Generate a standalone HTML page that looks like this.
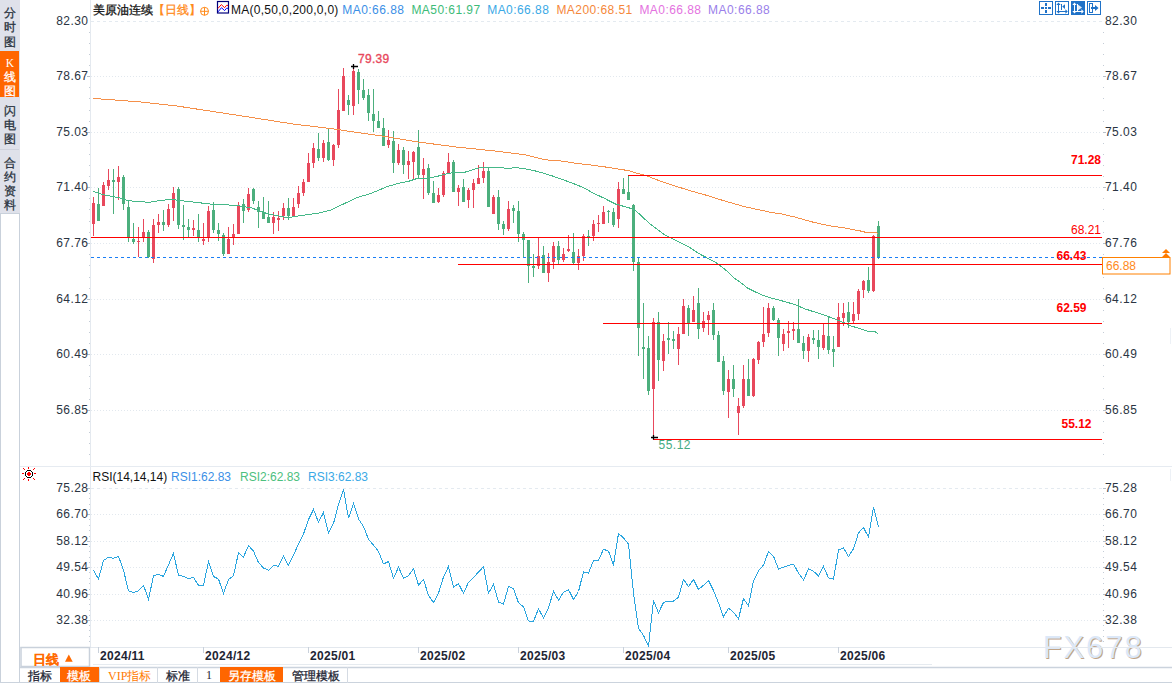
<!DOCTYPE html>
<html><head><meta charset="utf-8"><style>
html,body{margin:0;padding:0;width:1172px;height:683px;overflow:hidden;background:#fff;}
svg{position:absolute;left:0;top:0;font-family:"Liberation Sans", sans-serif;}
</style></head><body>
<svg width="1172" height="683" viewBox="0 0 1172 683">
<text x="1043.7" y="659.3" font-size="31" fill="#c0a488" letter-spacing="1.9">FX678</text>
<text x="1042.7" y="658.3" font-size="31" fill="#dce8f8" letter-spacing="1.9">FX678</text>
<rect x="0" y="0" width="20" height="213" fill="#dfe1ea" />
<rect x="0" y="51" width="19" height="46" fill="#ff6600" />
<line x1="0" y1="149.5" x2="19" y2="149.5" stroke="#cfd2dc" stroke-width="1"/>
<line x1="0" y1="50.5" x2="19" y2="50.5" stroke="#d6e2f0" stroke-width="1"/>
<rect x="0" y="213" width="20" height="470" fill="#ffffff" />
<line x1="0.5" y1="213" x2="0.5" y2="683" stroke="#c9d1db" stroke-width="1"/>
<line x1="19.5" y1="213" x2="19.5" y2="683" stroke="#c9d1db" stroke-width="1"/>
<line x1="0" y1="213.5" x2="20" y2="213.5" stroke="#c9d1db" stroke-width="1"/>
<text x="10" y="17" font-size="12" fill="#2a3340" text-anchor="middle" font-weight="normal"  stroke="#2a3340" stroke-width="0.3">分</text>
<text x="10" y="31" font-size="12" fill="#2a3340" text-anchor="middle" font-weight="normal"  stroke="#2a3340" stroke-width="0.3">时</text>
<text x="10" y="45.5" font-size="12" fill="#2a3340" text-anchor="middle" font-weight="normal"  stroke="#2a3340" stroke-width="0.3">图</text>
<text x="10" y="66.5" font-size="11.5" fill="#ffffff" text-anchor="middle" font-weight="normal" font-family="Liberation Serif, serif">K</text>
<text x="10" y="81" font-size="12" fill="#ffffff" text-anchor="middle" font-weight="normal"  stroke="#ffffff" stroke-width="0.3">线</text>
<text x="10" y="95" font-size="12" fill="#ffffff" text-anchor="middle" font-weight="normal"  stroke="#ffffff" stroke-width="0.3">图</text>
<text x="10" y="114.5" font-size="12" fill="#2a3340" text-anchor="middle" font-weight="normal"  stroke="#2a3340" stroke-width="0.3">闪</text>
<text x="10" y="128.5" font-size="12" fill="#2a3340" text-anchor="middle" font-weight="normal"  stroke="#2a3340" stroke-width="0.3">电</text>
<text x="10" y="142.5" font-size="12" fill="#2a3340" text-anchor="middle" font-weight="normal"  stroke="#2a3340" stroke-width="0.3">图</text>
<text x="10" y="167" font-size="12" fill="#2a3340" text-anchor="middle" font-weight="normal"  stroke="#2a3340" stroke-width="0.3">合</text>
<text x="10" y="181" font-size="12" fill="#2a3340" text-anchor="middle" font-weight="normal"  stroke="#2a3340" stroke-width="0.3">约</text>
<text x="10" y="195" font-size="12" fill="#2a3340" text-anchor="middle" font-weight="normal"  stroke="#2a3340" stroke-width="0.3">资</text>
<text x="10" y="209" font-size="12" fill="#2a3340" text-anchor="middle" font-weight="normal"  stroke="#2a3340" stroke-width="0.3">料</text>
<line x1="90.5" y1="0" x2="90.5" y2="647" stroke="#e4e9ef" stroke-width="1"/>
<line x1="91" y1="21.5" x2="1102" y2="21.5" stroke="#e4eaf0" stroke-width="1" stroke-dasharray="3 3"/>
<text x="88.5" y="24.5" font-size="12" fill="#2a3442" text-anchor="end" font-weight="normal" letter-spacing="0.45">82.30</text>
<text x="1105" y="24.5" font-size="12" fill="#2a3442" text-anchor="start" font-weight="normal" letter-spacing="0.45">82.30</text>
<line x1="91" y1="76.5" x2="1102" y2="76.5" stroke="#e2e8ee" stroke-width="1" stroke-dasharray="1 2"/>
<line x1="87" y1="76.5" x2="90" y2="76.5" stroke="#b8c0ca" stroke-width="1"/>
<line x1="1103" y1="76.5" x2="1106" y2="76.5" stroke="#b8c0ca" stroke-width="1"/>
<text x="88.5" y="79.5" font-size="12" fill="#2a3442" text-anchor="end" font-weight="normal" letter-spacing="0.45">78.67</text>
<text x="1105" y="79.5" font-size="12" fill="#2a3442" text-anchor="start" font-weight="normal" letter-spacing="0.45">78.67</text>
<line x1="91" y1="132.5" x2="1102" y2="132.5" stroke="#e2e8ee" stroke-width="1" stroke-dasharray="1 2"/>
<line x1="87" y1="132.5" x2="90" y2="132.5" stroke="#b8c0ca" stroke-width="1"/>
<line x1="1103" y1="132.5" x2="1106" y2="132.5" stroke="#b8c0ca" stroke-width="1"/>
<text x="88.5" y="135.5" font-size="12" fill="#2a3442" text-anchor="end" font-weight="normal" letter-spacing="0.45">75.03</text>
<text x="1105" y="135.5" font-size="12" fill="#2a3442" text-anchor="start" font-weight="normal" letter-spacing="0.45">75.03</text>
<line x1="91" y1="187.5" x2="1102" y2="187.5" stroke="#e2e8ee" stroke-width="1" stroke-dasharray="1 2"/>
<line x1="87" y1="187.5" x2="90" y2="187.5" stroke="#b8c0ca" stroke-width="1"/>
<line x1="1103" y1="187.5" x2="1106" y2="187.5" stroke="#b8c0ca" stroke-width="1"/>
<text x="88.5" y="190.5" font-size="12" fill="#2a3442" text-anchor="end" font-weight="normal" letter-spacing="0.45">71.40</text>
<text x="1105" y="190.5" font-size="12" fill="#2a3442" text-anchor="start" font-weight="normal" letter-spacing="0.45">71.40</text>
<line x1="91" y1="243.5" x2="1102" y2="243.5" stroke="#e2e8ee" stroke-width="1" stroke-dasharray="1 2"/>
<line x1="87" y1="243.5" x2="90" y2="243.5" stroke="#b8c0ca" stroke-width="1"/>
<line x1="1103" y1="243.5" x2="1106" y2="243.5" stroke="#b8c0ca" stroke-width="1"/>
<text x="88.5" y="246.5" font-size="12" fill="#2a3442" text-anchor="end" font-weight="normal" letter-spacing="0.45">67.76</text>
<text x="1105" y="246.5" font-size="12" fill="#2a3442" text-anchor="start" font-weight="normal" letter-spacing="0.45">67.76</text>
<line x1="91" y1="299.5" x2="1102" y2="299.5" stroke="#e2e8ee" stroke-width="1" stroke-dasharray="1 2"/>
<line x1="87" y1="299.5" x2="90" y2="299.5" stroke="#b8c0ca" stroke-width="1"/>
<line x1="1103" y1="299.5" x2="1106" y2="299.5" stroke="#b8c0ca" stroke-width="1"/>
<text x="88.5" y="302.5" font-size="12" fill="#2a3442" text-anchor="end" font-weight="normal" letter-spacing="0.45">64.12</text>
<text x="1105" y="302.5" font-size="12" fill="#2a3442" text-anchor="start" font-weight="normal" letter-spacing="0.45">64.12</text>
<line x1="91" y1="354.5" x2="1102" y2="354.5" stroke="#e2e8ee" stroke-width="1" stroke-dasharray="1 2"/>
<line x1="87" y1="354.5" x2="90" y2="354.5" stroke="#b8c0ca" stroke-width="1"/>
<line x1="1103" y1="354.5" x2="1106" y2="354.5" stroke="#b8c0ca" stroke-width="1"/>
<text x="88.5" y="357.5" font-size="12" fill="#2a3442" text-anchor="end" font-weight="normal" letter-spacing="0.45">60.49</text>
<text x="1105" y="357.5" font-size="12" fill="#2a3442" text-anchor="start" font-weight="normal" letter-spacing="0.45">60.49</text>
<line x1="91" y1="410.5" x2="1102" y2="410.5" stroke="#e2e8ee" stroke-width="1" stroke-dasharray="1 2"/>
<line x1="87" y1="410.5" x2="90" y2="410.5" stroke="#b8c0ca" stroke-width="1"/>
<line x1="1103" y1="410.5" x2="1106" y2="410.5" stroke="#b8c0ca" stroke-width="1"/>
<text x="88.5" y="413.5" font-size="12" fill="#2a3442" text-anchor="end" font-weight="normal" letter-spacing="0.45">56.85</text>
<text x="1105" y="413.5" font-size="12" fill="#2a3442" text-anchor="start" font-weight="normal" letter-spacing="0.45">56.85</text>
<rect x="89" y="32" width="1" height="1" fill="#c4ccd6" />
<rect x="1103" y="32" width="1" height="1" fill="#c4ccd6" />
<rect x="89" y="43" width="1" height="1" fill="#c4ccd6" />
<rect x="1103" y="43" width="1" height="1" fill="#c4ccd6" />
<rect x="89" y="54" width="1" height="1" fill="#c4ccd6" />
<rect x="1103" y="54" width="1" height="1" fill="#c4ccd6" />
<rect x="89" y="65" width="1" height="1" fill="#c4ccd6" />
<rect x="1103" y="65" width="1" height="1" fill="#c4ccd6" />
<rect x="89" y="87" width="1" height="1" fill="#c4ccd6" />
<rect x="1103" y="87" width="1" height="1" fill="#c4ccd6" />
<rect x="89" y="98" width="1" height="1" fill="#c4ccd6" />
<rect x="1103" y="98" width="1" height="1" fill="#c4ccd6" />
<rect x="89" y="110" width="1" height="1" fill="#c4ccd6" />
<rect x="1103" y="110" width="1" height="1" fill="#c4ccd6" />
<rect x="89" y="121" width="1" height="1" fill="#c4ccd6" />
<rect x="1103" y="121" width="1" height="1" fill="#c4ccd6" />
<rect x="89" y="143" width="1" height="1" fill="#c4ccd6" />
<rect x="1103" y="143" width="1" height="1" fill="#c4ccd6" />
<rect x="89" y="154" width="1" height="1" fill="#c4ccd6" />
<rect x="1103" y="154" width="1" height="1" fill="#c4ccd6" />
<rect x="89" y="165" width="1" height="1" fill="#c4ccd6" />
<rect x="1103" y="165" width="1" height="1" fill="#c4ccd6" />
<rect x="89" y="176" width="1" height="1" fill="#c4ccd6" />
<rect x="1103" y="176" width="1" height="1" fill="#c4ccd6" />
<rect x="89" y="198" width="1" height="1" fill="#c4ccd6" />
<rect x="1103" y="198" width="1" height="1" fill="#c4ccd6" />
<rect x="89" y="209" width="1" height="1" fill="#c4ccd6" />
<rect x="1103" y="209" width="1" height="1" fill="#c4ccd6" />
<rect x="89" y="221" width="1" height="1" fill="#c4ccd6" />
<rect x="1103" y="221" width="1" height="1" fill="#c4ccd6" />
<rect x="89" y="232" width="1" height="1" fill="#c4ccd6" />
<rect x="1103" y="232" width="1" height="1" fill="#c4ccd6" />
<rect x="89" y="254" width="1" height="1" fill="#c4ccd6" />
<rect x="1103" y="254" width="1" height="1" fill="#c4ccd6" />
<rect x="89" y="265" width="1" height="1" fill="#c4ccd6" />
<rect x="1103" y="265" width="1" height="1" fill="#c4ccd6" />
<rect x="89" y="277" width="1" height="1" fill="#c4ccd6" />
<rect x="1103" y="277" width="1" height="1" fill="#c4ccd6" />
<rect x="89" y="288" width="1" height="1" fill="#c4ccd6" />
<rect x="1103" y="288" width="1" height="1" fill="#c4ccd6" />
<rect x="89" y="310" width="1" height="1" fill="#c4ccd6" />
<rect x="1103" y="310" width="1" height="1" fill="#c4ccd6" />
<rect x="89" y="321" width="1" height="1" fill="#c4ccd6" />
<rect x="1103" y="321" width="1" height="1" fill="#c4ccd6" />
<rect x="89" y="332" width="1" height="1" fill="#c4ccd6" />
<rect x="1103" y="332" width="1" height="1" fill="#c4ccd6" />
<rect x="89" y="343" width="1" height="1" fill="#c4ccd6" />
<rect x="1103" y="343" width="1" height="1" fill="#c4ccd6" />
<rect x="89" y="365" width="1" height="1" fill="#c4ccd6" />
<rect x="1103" y="365" width="1" height="1" fill="#c4ccd6" />
<rect x="89" y="376" width="1" height="1" fill="#c4ccd6" />
<rect x="1103" y="376" width="1" height="1" fill="#c4ccd6" />
<rect x="89" y="388" width="1" height="1" fill="#c4ccd6" />
<rect x="1103" y="388" width="1" height="1" fill="#c4ccd6" />
<rect x="89" y="399" width="1" height="1" fill="#c4ccd6" />
<rect x="1103" y="399" width="1" height="1" fill="#c4ccd6" />
<rect x="89" y="421" width="1" height="1" fill="#c4ccd6" />
<rect x="1103" y="421" width="1" height="1" fill="#c4ccd6" />
<rect x="89" y="432" width="1" height="1" fill="#c4ccd6" />
<rect x="1103" y="432" width="1" height="1" fill="#c4ccd6" />
<rect x="89" y="443" width="1" height="1" fill="#c4ccd6" />
<rect x="1103" y="443" width="1" height="1" fill="#c4ccd6" />
<rect x="89" y="454" width="1" height="1" fill="#c4ccd6" />
<rect x="1103" y="454" width="1" height="1" fill="#c4ccd6" />
<line x1="20" y1="466.5" x2="1172" y2="466.5" stroke="#e6ebf1" stroke-width="1"/>
<rect x="93" y="197" width="1" height="39" fill="#e8485c" />
<rect x="92" y="203" width="3" height="21" fill="#e8485c" />
<rect x="98" y="188" width="1" height="33" fill="#4caf7d" />
<rect x="97" y="204" width="3" height="17" fill="#4caf7d" />
<rect x="103" y="182" width="1" height="24" fill="#e8485c" />
<rect x="102" y="185" width="3" height="21" fill="#e8485c" />
<rect x="108" y="169" width="1" height="21" fill="#e8485c" />
<rect x="107" y="180" width="3" height="6" fill="#e8485c" />
<rect x="113" y="169" width="1" height="45" fill="#4caf7d" />
<rect x="112" y="180" width="3" height="2" fill="#4caf7d" />
<rect x="118" y="166" width="1" height="34" fill="#e8485c" />
<rect x="117" y="177" width="3" height="5" fill="#e8485c" />
<rect x="123" y="175" width="1" height="35" fill="#4caf7d" />
<rect x="122" y="177" width="3" height="27" fill="#4caf7d" />
<rect x="128" y="200" width="1" height="42" fill="#4caf7d" />
<rect x="127" y="207" width="3" height="31" fill="#4caf7d" />
<rect x="133" y="223" width="1" height="21" fill="#4caf7d" />
<rect x="132" y="239" width="3" height="3" fill="#4caf7d" />
<rect x="138" y="227" width="1" height="30" fill="#e8485c" />
<rect x="137" y="241" width="3" height="1" fill="#e8485c" />
<rect x="143" y="219" width="1" height="23" fill="#e8485c" />
<rect x="142" y="232" width="3" height="6" fill="#e8485c" />
<rect x="148" y="230" width="1" height="28" fill="#4caf7d" />
<rect x="147" y="232" width="3" height="25" fill="#4caf7d" />
<rect x="153" y="219" width="1" height="44" fill="#e8485c" />
<rect x="152" y="225" width="3" height="34" fill="#e8485c" />
<rect x="158" y="214" width="1" height="19" fill="#e8485c" />
<rect x="157" y="222" width="3" height="3" fill="#e8485c" />
<rect x="163" y="210" width="1" height="21" fill="#4caf7d" />
<rect x="162" y="222" width="3" height="3" fill="#4caf7d" />
<rect x="168" y="204" width="1" height="23" fill="#e8485c" />
<rect x="167" y="209" width="3" height="16" fill="#e8485c" />
<rect x="173" y="187" width="1" height="34" fill="#e8485c" />
<rect x="172" y="193" width="3" height="15" fill="#e8485c" />
<rect x="178" y="187" width="1" height="42" fill="#4caf7d" />
<rect x="177" y="189" width="3" height="36" fill="#4caf7d" />
<rect x="183" y="205" width="1" height="35" fill="#4caf7d" />
<rect x="182" y="225" width="3" height="2" fill="#4caf7d" />
<rect x="188" y="219" width="1" height="18" fill="#4caf7d" />
<rect x="187" y="227" width="3" height="3" fill="#4caf7d" />
<rect x="193" y="220" width="1" height="16" fill="#e8485c" />
<rect x="192" y="228" width="3" height="2" fill="#e8485c" />
<rect x="198" y="214" width="1" height="28" fill="#4caf7d" />
<rect x="197" y="230" width="3" height="8" fill="#4caf7d" />
<rect x="203" y="223" width="1" height="22" fill="#e8485c" />
<rect x="202" y="239" width="3" height="2" fill="#e8485c" />
<rect x="208" y="206" width="1" height="36" fill="#e8485c" />
<rect x="207" y="211" width="3" height="27" fill="#e8485c" />
<rect x="213" y="202" width="1" height="31" fill="#4caf7d" />
<rect x="212" y="210" width="3" height="20" fill="#4caf7d" />
<rect x="218" y="223" width="1" height="18" fill="#4caf7d" />
<rect x="217" y="230" width="3" height="4" fill="#4caf7d" />
<rect x="223" y="233" width="1" height="23" fill="#4caf7d" />
<rect x="222" y="235" width="3" height="19" fill="#4caf7d" />
<rect x="228" y="227" width="1" height="27" fill="#e8485c" />
<rect x="227" y="239" width="3" height="15" fill="#e8485c" />
<rect x="233" y="224" width="1" height="21" fill="#e8485c" />
<rect x="232" y="234" width="3" height="3" fill="#e8485c" />
<rect x="238" y="202" width="1" height="32" fill="#e8485c" />
<rect x="237" y="206" width="3" height="28" fill="#e8485c" />
<rect x="243" y="199" width="1" height="24" fill="#4caf7d" />
<rect x="242" y="204" width="3" height="7" fill="#4caf7d" />
<rect x="248" y="188" width="1" height="24" fill="#e8485c" />
<rect x="247" y="194" width="3" height="16" fill="#e8485c" />
<rect x="253" y="188" width="1" height="16" fill="#4caf7d" />
<rect x="252" y="189" width="3" height="12" fill="#4caf7d" />
<rect x="258" y="201" width="1" height="27" fill="#4caf7d" />
<rect x="257" y="207" width="3" height="5" fill="#4caf7d" />
<rect x="263" y="197" width="1" height="22" fill="#4caf7d" />
<rect x="262" y="212" width="3" height="7" fill="#4caf7d" />
<rect x="268" y="201" width="1" height="22" fill="#4caf7d" />
<rect x="267" y="217" width="3" height="6" fill="#4caf7d" />
<rect x="273" y="212" width="1" height="22" fill="#e8485c" />
<rect x="272" y="217" width="3" height="6" fill="#e8485c" />
<rect x="278" y="211" width="1" height="20" fill="#e8485c" />
<rect x="277" y="218" width="3" height="2" fill="#e8485c" />
<rect x="283" y="203" width="1" height="17" fill="#e8485c" />
<rect x="282" y="208" width="3" height="8" fill="#e8485c" />
<rect x="288" y="198" width="1" height="22" fill="#4caf7d" />
<rect x="287" y="208" width="3" height="8" fill="#4caf7d" />
<rect x="293" y="198" width="1" height="18" fill="#e8485c" />
<rect x="292" y="207" width="3" height="9" fill="#e8485c" />
<rect x="298" y="186" width="1" height="22" fill="#e8485c" />
<rect x="297" y="193" width="3" height="11" fill="#e8485c" />
<rect x="303" y="179" width="1" height="17" fill="#e8485c" />
<rect x="302" y="182" width="3" height="11" fill="#e8485c" />
<rect x="308" y="153" width="1" height="29" fill="#e8485c" />
<rect x="307" y="163" width="3" height="19" fill="#e8485c" />
<rect x="313" y="143" width="1" height="25" fill="#e8485c" />
<rect x="312" y="148" width="3" height="15" fill="#e8485c" />
<rect x="318" y="133" width="1" height="28" fill="#4caf7d" />
<rect x="317" y="149" width="3" height="9" fill="#4caf7d" />
<rect x="323" y="140" width="1" height="22" fill="#e8485c" />
<rect x="322" y="143" width="3" height="15" fill="#e8485c" />
<rect x="328" y="129" width="1" height="32" fill="#4caf7d" />
<rect x="327" y="142" width="3" height="18" fill="#4caf7d" />
<rect x="333" y="144" width="1" height="22" fill="#e8485c" />
<rect x="332" y="145" width="3" height="15" fill="#e8485c" />
<rect x="338" y="89" width="1" height="59" fill="#e8485c" />
<rect x="337" y="110" width="3" height="35" fill="#e8485c" />
<rect x="343" y="68" width="1" height="43" fill="#e8485c" />
<rect x="342" y="76" width="3" height="35" fill="#e8485c" />
<rect x="348" y="95" width="1" height="20" fill="#4caf7d" />
<rect x="347" y="100" width="3" height="5" fill="#4caf7d" />
<rect x="353" y="68" width="1" height="47" fill="#e8485c" />
<rect x="352" y="71" width="3" height="35" fill="#e8485c" />
<rect x="358" y="69" width="1" height="35" fill="#4caf7d" />
<rect x="357" y="72" width="3" height="18" fill="#4caf7d" />
<rect x="363" y="79" width="1" height="21" fill="#4caf7d" />
<rect x="362" y="90" width="3" height="8" fill="#4caf7d" />
<rect x="368" y="89" width="1" height="32" fill="#4caf7d" />
<rect x="367" y="95" width="3" height="18" fill="#4caf7d" />
<rect x="373" y="89" width="1" height="43" fill="#4caf7d" />
<rect x="372" y="114" width="3" height="7" fill="#4caf7d" />
<rect x="378" y="111" width="1" height="17" fill="#4caf7d" />
<rect x="377" y="121" width="3" height="7" fill="#4caf7d" />
<rect x="383" y="118" width="1" height="28" fill="#4caf7d" />
<rect x="382" y="128" width="3" height="18" fill="#4caf7d" />
<rect x="388" y="130" width="1" height="18" fill="#e8485c" />
<rect x="387" y="140" width="3" height="5" fill="#e8485c" />
<rect x="393" y="131" width="1" height="42" fill="#4caf7d" />
<rect x="392" y="141" width="3" height="22" fill="#4caf7d" />
<rect x="398" y="144" width="1" height="21" fill="#e8485c" />
<rect x="397" y="150" width="3" height="13" fill="#e8485c" />
<rect x="403" y="147" width="1" height="27" fill="#4caf7d" />
<rect x="402" y="150" width="3" height="15" fill="#4caf7d" />
<rect x="408" y="151" width="1" height="28" fill="#e8485c" />
<rect x="407" y="161" width="3" height="4" fill="#e8485c" />
<rect x="413" y="151" width="1" height="28" fill="#e8485c" />
<rect x="412" y="152" width="3" height="10" fill="#e8485c" />
<rect x="418" y="130" width="1" height="48" fill="#4caf7d" />
<rect x="417" y="147" width="3" height="28" fill="#4caf7d" />
<rect x="423" y="158" width="1" height="41" fill="#e8485c" />
<rect x="422" y="169" width="3" height="6" fill="#e8485c" />
<rect x="428" y="164" width="1" height="31" fill="#4caf7d" />
<rect x="427" y="168" width="3" height="25" fill="#4caf7d" />
<rect x="433" y="181" width="1" height="22" fill="#4caf7d" />
<rect x="432" y="193" width="3" height="10" fill="#4caf7d" />
<rect x="438" y="188" width="1" height="15" fill="#e8485c" />
<rect x="437" y="195" width="3" height="7" fill="#e8485c" />
<rect x="443" y="171" width="1" height="26" fill="#e8485c" />
<rect x="442" y="173" width="3" height="22" fill="#e8485c" />
<rect x="448" y="153" width="1" height="20" fill="#e8485c" />
<rect x="447" y="162" width="3" height="11" fill="#e8485c" />
<rect x="453" y="160" width="1" height="32" fill="#4caf7d" />
<rect x="452" y="162" width="3" height="30" fill="#4caf7d" />
<rect x="458" y="185" width="1" height="21" fill="#e8485c" />
<rect x="457" y="188" width="3" height="4" fill="#e8485c" />
<rect x="463" y="179" width="1" height="23" fill="#4caf7d" />
<rect x="462" y="187" width="3" height="15" fill="#4caf7d" />
<rect x="468" y="188" width="1" height="20" fill="#e8485c" />
<rect x="467" y="190" width="3" height="10" fill="#e8485c" />
<rect x="473" y="179" width="1" height="29" fill="#e8485c" />
<rect x="472" y="183" width="3" height="7" fill="#e8485c" />
<rect x="478" y="165" width="1" height="19" fill="#e8485c" />
<rect x="477" y="178" width="3" height="6" fill="#e8485c" />
<rect x="483" y="162" width="1" height="21" fill="#e8485c" />
<rect x="482" y="171" width="3" height="7" fill="#e8485c" />
<rect x="488" y="167" width="1" height="40" fill="#4caf7d" />
<rect x="487" y="171" width="3" height="36" fill="#4caf7d" />
<rect x="493" y="195" width="1" height="19" fill="#e8485c" />
<rect x="492" y="197" width="3" height="17" fill="#e8485c" />
<rect x="498" y="190" width="1" height="40" fill="#4caf7d" />
<rect x="497" y="197" width="3" height="27" fill="#4caf7d" />
<rect x="503" y="221" width="1" height="14" fill="#4caf7d" />
<rect x="502" y="224" width="3" height="5" fill="#4caf7d" />
<rect x="508" y="201" width="1" height="30" fill="#e8485c" />
<rect x="507" y="209" width="3" height="20" fill="#e8485c" />
<rect x="513" y="205" width="1" height="18" fill="#4caf7d" />
<rect x="512" y="208" width="3" height="3" fill="#4caf7d" />
<rect x="518" y="201" width="1" height="41" fill="#4caf7d" />
<rect x="517" y="211" width="3" height="23" fill="#4caf7d" />
<rect x="523" y="232" width="1" height="26" fill="#4caf7d" />
<rect x="522" y="234" width="3" height="6" fill="#4caf7d" />
<rect x="528" y="240" width="1" height="43" fill="#4caf7d" />
<rect x="527" y="240" width="3" height="26" fill="#4caf7d" />
<rect x="533" y="254" width="1" height="23" fill="#4caf7d" />
<rect x="532" y="266" width="3" height="2" fill="#4caf7d" />
<rect x="538" y="238" width="1" height="31" fill="#e8485c" />
<rect x="537" y="256" width="3" height="10" fill="#e8485c" />
<rect x="543" y="246" width="1" height="27" fill="#4caf7d" />
<rect x="542" y="255" width="3" height="18" fill="#4caf7d" />
<rect x="548" y="253" width="1" height="29" fill="#e8485c" />
<rect x="547" y="262" width="3" height="11" fill="#e8485c" />
<rect x="553" y="242" width="1" height="27" fill="#e8485c" />
<rect x="552" y="246" width="3" height="16" fill="#e8485c" />
<rect x="558" y="241" width="1" height="23" fill="#4caf7d" />
<rect x="557" y="246" width="3" height="14" fill="#4caf7d" />
<rect x="563" y="248" width="1" height="14" fill="#e8485c" />
<rect x="562" y="254" width="3" height="6" fill="#e8485c" />
<rect x="568" y="235" width="1" height="17" fill="#e8485c" />
<rect x="567" y="249" width="3" height="2" fill="#e8485c" />
<rect x="573" y="233" width="1" height="31" fill="#4caf7d" />
<rect x="572" y="252" width="3" height="11" fill="#4caf7d" />
<rect x="578" y="249" width="1" height="21" fill="#e8485c" />
<rect x="577" y="256" width="3" height="7" fill="#e8485c" />
<rect x="583" y="234" width="1" height="27" fill="#e8485c" />
<rect x="582" y="236" width="3" height="20" fill="#e8485c" />
<rect x="588" y="230" width="1" height="16" fill="#4caf7d" />
<rect x="587" y="236" width="3" height="1" fill="#4caf7d" />
<rect x="593" y="220" width="1" height="21" fill="#e8485c" />
<rect x="592" y="224" width="3" height="12" fill="#e8485c" />
<rect x="598" y="215" width="1" height="17" fill="#e8485c" />
<rect x="597" y="223" width="3" height="1" fill="#e8485c" />
<rect x="603" y="206" width="1" height="18" fill="#e8485c" />
<rect x="602" y="212" width="3" height="12" fill="#e8485c" />
<rect x="608" y="210" width="1" height="13" fill="#4caf7d" />
<rect x="607" y="211" width="3" height="1" fill="#4caf7d" />
<rect x="613" y="208" width="1" height="19" fill="#4caf7d" />
<rect x="612" y="212" width="3" height="13" fill="#4caf7d" />
<rect x="618" y="182" width="1" height="46" fill="#e8485c" />
<rect x="617" y="189" width="3" height="30" fill="#e8485c" />
<rect x="623" y="178" width="1" height="16" fill="#4caf7d" />
<rect x="622" y="189" width="3" height="5" fill="#4caf7d" />
<rect x="628" y="175" width="1" height="25" fill="#4caf7d" />
<rect x="627" y="192" width="3" height="8" fill="#4caf7d" />
<rect x="633" y="204" width="1" height="67" fill="#4caf7d" />
<rect x="632" y="205" width="3" height="57" fill="#4caf7d" />
<rect x="638" y="258" width="1" height="98" fill="#4caf7d" />
<rect x="637" y="262" width="3" height="66" fill="#4caf7d" />
<rect x="643" y="303" width="1" height="76" fill="#4caf7d" />
<rect x="642" y="347" width="3" height="2" fill="#4caf7d" />
<rect x="648" y="336" width="1" height="59" fill="#4caf7d" />
<rect x="647" y="348" width="3" height="43" fill="#4caf7d" />
<rect x="653" y="318" width="1" height="119" fill="#e8485c" />
<rect x="652" y="322" width="3" height="67" fill="#e8485c" />
<rect x="658" y="312" width="1" height="69" fill="#4caf7d" />
<rect x="657" y="322" width="3" height="38" fill="#4caf7d" />
<rect x="663" y="334" width="1" height="37" fill="#e8485c" />
<rect x="662" y="341" width="3" height="20" fill="#e8485c" />
<rect x="668" y="322" width="1" height="32" fill="#4caf7d" />
<rect x="667" y="338" width="3" height="2" fill="#4caf7d" />
<rect x="673" y="331" width="1" height="18" fill="#4caf7d" />
<rect x="672" y="339" width="3" height="2" fill="#4caf7d" />
<rect x="678" y="327" width="1" height="38" fill="#e8485c" />
<rect x="677" y="334" width="3" height="15" fill="#e8485c" />
<rect x="683" y="299" width="1" height="35" fill="#e8485c" />
<rect x="682" y="306" width="3" height="28" fill="#e8485c" />
<rect x="688" y="305" width="1" height="31" fill="#4caf7d" />
<rect x="687" y="308" width="3" height="15" fill="#4caf7d" />
<rect x="693" y="296" width="1" height="26" fill="#e8485c" />
<rect x="692" y="310" width="3" height="12" fill="#e8485c" />
<rect x="698" y="288" width="1" height="51" fill="#4caf7d" />
<rect x="697" y="303" width="3" height="26" fill="#4caf7d" />
<rect x="703" y="312" width="1" height="20" fill="#e8485c" />
<rect x="702" y="321" width="3" height="7" fill="#e8485c" />
<rect x="708" y="311" width="1" height="24" fill="#e8485c" />
<rect x="707" y="315" width="3" height="5" fill="#e8485c" />
<rect x="713" y="303" width="1" height="37" fill="#4caf7d" />
<rect x="712" y="310" width="3" height="25" fill="#4caf7d" />
<rect x="718" y="331" width="1" height="31" fill="#4caf7d" />
<rect x="717" y="335" width="3" height="27" fill="#4caf7d" />
<rect x="723" y="356" width="1" height="39" fill="#4caf7d" />
<rect x="722" y="361" width="3" height="30" fill="#4caf7d" />
<rect x="728" y="370" width="1" height="48" fill="#e8485c" />
<rect x="727" y="379" width="3" height="13" fill="#e8485c" />
<rect x="733" y="365" width="1" height="32" fill="#4caf7d" />
<rect x="732" y="379" width="3" height="10" fill="#4caf7d" />
<rect x="738" y="398" width="1" height="37" fill="#e8485c" />
<rect x="737" y="406" width="3" height="7" fill="#e8485c" />
<rect x="743" y="365" width="1" height="43" fill="#e8485c" />
<rect x="742" y="379" width="3" height="27" fill="#e8485c" />
<rect x="748" y="359" width="1" height="37" fill="#4caf7d" />
<rect x="747" y="379" width="3" height="17" fill="#4caf7d" />
<rect x="753" y="358" width="1" height="39" fill="#e8485c" />
<rect x="752" y="359" width="3" height="37" fill="#e8485c" />
<rect x="758" y="341" width="1" height="23" fill="#e8485c" />
<rect x="757" y="342" width="3" height="18" fill="#e8485c" />
<rect x="763" y="307" width="1" height="40" fill="#e8485c" />
<rect x="762" y="334" width="3" height="8" fill="#e8485c" />
<rect x="768" y="303" width="1" height="34" fill="#e8485c" />
<rect x="767" y="308" width="3" height="25" fill="#e8485c" />
<rect x="773" y="306" width="1" height="15" fill="#4caf7d" />
<rect x="772" y="308" width="3" height="12" fill="#4caf7d" />
<rect x="778" y="318" width="1" height="38" fill="#4caf7d" />
<rect x="777" y="320" width="3" height="18" fill="#4caf7d" />
<rect x="783" y="329" width="1" height="22" fill="#e8485c" />
<rect x="782" y="334" width="3" height="10" fill="#e8485c" />
<rect x="788" y="321" width="1" height="27" fill="#e8485c" />
<rect x="787" y="331" width="3" height="2" fill="#e8485c" />
<rect x="793" y="322" width="1" height="18" fill="#e8485c" />
<rect x="792" y="329" width="3" height="2" fill="#e8485c" />
<rect x="798" y="299" width="1" height="44" fill="#4caf7d" />
<rect x="797" y="329" width="3" height="14" fill="#4caf7d" />
<rect x="803" y="336" width="1" height="23" fill="#4caf7d" />
<rect x="802" y="343" width="3" height="8" fill="#4caf7d" />
<rect x="808" y="334" width="1" height="28" fill="#e8485c" />
<rect x="807" y="337" width="3" height="14" fill="#e8485c" />
<rect x="813" y="330" width="1" height="14" fill="#4caf7d" />
<rect x="812" y="338" width="3" height="2" fill="#4caf7d" />
<rect x="818" y="330" width="1" height="29" fill="#4caf7d" />
<rect x="817" y="340" width="3" height="7" fill="#4caf7d" />
<rect x="823" y="324" width="1" height="26" fill="#e8485c" />
<rect x="822" y="335" width="3" height="13" fill="#e8485c" />
<rect x="828" y="316" width="1" height="38" fill="#4caf7d" />
<rect x="827" y="336" width="3" height="14" fill="#4caf7d" />
<rect x="833" y="336" width="1" height="31" fill="#4caf7d" />
<rect x="832" y="349" width="3" height="3" fill="#4caf7d" />
<rect x="838" y="303" width="1" height="44" fill="#e8485c" />
<rect x="837" y="317" width="3" height="30" fill="#e8485c" />
<rect x="843" y="303" width="1" height="23" fill="#e8485c" />
<rect x="842" y="313" width="3" height="5" fill="#e8485c" />
<rect x="848" y="302" width="1" height="26" fill="#4caf7d" />
<rect x="847" y="312" width="3" height="10" fill="#4caf7d" />
<rect x="853" y="302" width="1" height="21" fill="#e8485c" />
<rect x="852" y="314" width="3" height="7" fill="#e8485c" />
<rect x="858" y="289" width="1" height="31" fill="#e8485c" />
<rect x="857" y="291" width="3" height="23" fill="#e8485c" />
<rect x="863" y="280" width="1" height="18" fill="#e8485c" />
<rect x="862" y="281" width="3" height="9" fill="#e8485c" />
<rect x="868" y="267" width="1" height="26" fill="#4caf7d" />
<rect x="867" y="280" width="3" height="11" fill="#4caf7d" />
<rect x="873" y="235" width="1" height="57" fill="#e8485c" />
<rect x="872" y="236" width="3" height="55" fill="#e8485c" />
<rect x="878" y="221" width="1" height="38" fill="#4caf7d" />
<rect x="877" y="226" width="3" height="32" fill="#4caf7d" />
<polyline points="93.1,98.4 139.2,101.8 177.6,106.1 216.0,112.0 254.4,117.9 292.8,124.0 331.2,128.6 369.5,134.3 380.0,135.6 418.4,142.0 456.8,147.1 495.2,151.0 526.4,155.0 545.5,159.8 561.9,161.1 575.6,163.2 589.2,164.8 602.9,166.6 616.5,168.7 628.8,170.7 636.0,172.9 647.4,176.1 658.8,180.5 674.0,185.6 689.3,190.5 704.5,194.7 719.7,199.5 734.9,203.9 746.3,207.1 761.6,210.3 773.0,212.8 780.7,213.6 786.3,215.2 794.8,216.9 802.3,219.2 813.6,222.3 823.0,224.4 832.3,226.3 841.7,227.4 851.1,229.3 860.5,231.0 866.1,232.4 875.5,232.4 877.9,233.3" fill="none" stroke="#f5904a" stroke-width="1" shape-rendering="crispEdges"/>
<polyline points="93.1,191.3 103.4,194.7 118.7,197.7 129.0,200.8 149.4,202.3 160.0,200.5 171.3,199.3 177.6,200.3 195.5,202.3 210.9,204.1 236.4,205.4 251.8,208.0 267.2,213.6 287.6,217.7 300.4,215.7 318.4,213.1 330.0,210.3 343.7,203.9 357.3,197.5 371.0,193.4 387.3,186.6 398.3,183.4 409.2,181.1 417.4,178.4 425.6,178.4 436.5,176.6 447.4,173.5 455.6,172.5 465.2,172.1 474.7,169.1 481.5,167.5 488.2,167.6 500.5,167.6 510.0,168.7 512.8,167.6 515.5,167.6 525.0,168.7 537.3,171.4 551.0,175.5 561.9,179.3 575.6,184.4 583.8,187.8 593.3,193.2 602.9,197.6 615.2,203.9 630.2,208.2 636.0,210.9 649.3,223.3 664.5,234.7 674.0,239.4 687.4,246.1 700.0,254.2 705.3,256.9 717.6,263.6 726.3,270.5 735.1,278.8 740.4,282.3 747.4,288.0 754.4,291.5 763.2,295.5 770.2,297.7 776.0,299.2 785.4,301.8 794.8,304.6 804.2,308.6 813.6,311.7 823.0,314.6 832.3,318.0 841.7,321.8 851.1,326.0 860.5,328.8 868.0,331.2 874.6,331.5 877.9,333.7" fill="none" stroke="#45b888" stroke-width="1" shape-rendering="crispEdges"/>
<line x1="628" y1="175.5" x2="1102" y2="175.5" stroke="#ff0000" stroke-width="1"/>
<line x1="91" y1="237.5" x2="1102" y2="237.5" stroke="#ff0000" stroke-width="1"/>
<line x1="458" y1="264.5" x2="1102" y2="264.5" stroke="#ff0000" stroke-width="1"/>
<line x1="603" y1="323.5" x2="1102" y2="323.5" stroke="#ff0000" stroke-width="1"/>
<line x1="653" y1="439.5" x2="1102" y2="439.5" stroke="#ff0000" stroke-width="1"/>
<line x1="91" y1="257.5" x2="1103" y2="257.5" stroke="#1a7ef5" stroke-width="1" stroke-dasharray="3 3"/>
<text x="1101" y="164" font-size="12" fill="#ff0000" text-anchor="end" font-weight="bold" >71.28</text>
<text x="1101" y="234" font-size="12" fill="#ff0000" text-anchor="end" font-weight="normal" >68.21</text>
<text x="1086.5" y="259.5" font-size="12" fill="#ff0000" text-anchor="end" font-weight="bold" >66.43</text>
<text x="1086.5" y="312" font-size="12" fill="#ff0000" text-anchor="end" font-weight="bold" >62.59</text>
<text x="1091.5" y="428" font-size="12" fill="#ff0000" text-anchor="end" font-weight="bold" >55.12</text>
<rect x="1102.5" y="257.5" width="67.5" height="16.5" fill="#fff" stroke="#ff8000" stroke-width="1"/>
<text x="1106" y="270" font-size="12" fill="#ff8a1a" text-anchor="start" font-weight="normal" >66.88</text>
<path d="M1166 249 L1170 253 L1162 253 Z M1166 253 L1170 257 L1162 257 Z" fill="#ff7a00"/>
<path d="M351 66.5 H358 M353.5 64 V69" stroke="#000" stroke-width="1.3" fill="none"/>
<text x="358" y="63" font-size="12" fill="#e8485c" text-anchor="start" font-weight="normal" letter-spacing="0.3" stroke="#e8485c" stroke-width="0.35">79.39</text>
<path d="M651 437.5 H658 M653.5 435 V439.5" stroke="#000" stroke-width="1.3" fill="none"/>
<text x="658.5" y="449" font-size="12" fill="#45ab82" text-anchor="start" font-weight="normal" letter-spacing="0.5">55.12</text>
<text x="92.5" y="14" font-size="12" fill="#111" text-anchor="start" font-weight="normal"  stroke="#111" stroke-width="0.3">美原油连续</text>
<text x="153.2" y="14" font-size="12" fill="#ff8a1a" text-anchor="start" font-weight="normal"  stroke="#ff8a1a" stroke-width="0.3">【日线】</text>
<g stroke="#ff8a1a" stroke-width="1" fill="none"><circle cx="204.5" cy="11.3" r="4"/><path d="M200.5 11.3 H208.5 M204.5 7.3 V15.3"/></g>
<rect x="217.5" y="1.5" width="11" height="11.5" fill="#fff" stroke="#00007a" stroke-width="1.2"/>
<polyline points="218,8.4 221.3,4.6 224.6,7.7 226.5,5.4 228,5.4" fill="none" stroke="#ff0000" stroke-width="1"/>
<polyline points="218,11.9 221.5,7.7 224.6,10.6 226.5,8.3 228,8.3" fill="none" stroke="#0000ff" stroke-width="1"/>
<text x="231" y="14" font-size="12" fill="#111" text-anchor="start" font-weight="normal" letter-spacing="0.27">MA(0,50,0,200,0,0)</text>
<text x="342.3" y="14" font-size="12" fill="#3b8fe6" text-anchor="start" font-weight="normal" letter-spacing="0.45">MA0:66.88</text>
<text x="411.4" y="14" font-size="12" fill="#3dbb78" text-anchor="start" font-weight="normal" letter-spacing="0.45">MA50:61.97</text>
<text x="487.2" y="14" font-size="12" fill="#3aa9e6" text-anchor="start" font-weight="normal" letter-spacing="0.45">MA0:66.88</text>
<text x="556.4" y="14" font-size="12" fill="#f5873a" text-anchor="start" font-weight="normal" letter-spacing="0.45">MA200:68.51</text>
<text x="639.4" y="14" font-size="12" fill="#e472e0" text-anchor="start" font-weight="normal" letter-spacing="0.45">MA0:66.88</text>
<text x="708.1" y="14" font-size="12" fill="#9a80ea" text-anchor="start" font-weight="normal" letter-spacing="0.45">MA0:66.88</text>
<rect x="1039.5" y="1.5" width="13" height="13" fill="#fff" stroke="#1f72c8" stroke-width="1"/>
<rect x="1055.5" y="1.5" width="13" height="13" fill="#fff" stroke="#1f72c8" stroke-width="1"/>
<rect x="1071" y="1" width="14" height="14" fill="#1f72c8" />
<rect x="1087.5" y="1.5" width="13" height="13" fill="#fff" stroke="#1f72c8" stroke-width="1"/>
<g fill="#1f72c8"><rect x="1045" y="3" width="2" height="3"/><rect x="1045" y="7" width="2" height="2"/><rect x="1045" y="10" width="2" height="3"/><rect x="1041" y="7" width="3" height="2"/><rect x="1048" y="7" width="3" height="2"/></g>
<g fill="#1f72c8"><rect x="1058" y="3" width="1" height="10"/><rect x="1057" y="11" width="10" height="1"/><rect x="1061" y="4" width="1" height="6"/><path d="M1058.5 2.6 L1060.7 5 L1056.3 5Z M1058.5 13.4 L1060.7 11 L1056.3 11Z M1067.8 11.5 L1065.4 9.3 L1065.4 13.7Z M1062.2 6.6 L1065 4.3 L1065 8.9Z"/></g>
<g fill="#fff"><rect x="1074" y="3" width="1" height="10"/><rect x="1073" y="11" width="10" height="1"/><path d="M1074.5 2.6 L1076.7 5 L1072.3 5Z M1074.5 13.4 L1076.7 11 L1072.3 11Z M1083.8 11.5 L1081.4 9.3 L1081.4 13.7Z"/></g><path d="M1077 4 L1082 7.5 L1077 11Z" fill="#e3edf8"/><rect x="1077" y="4" width="1" height="7" fill="#fff"/>
<rect x="1089.5" y="3.5" width="3" height="9" fill="none" stroke="#1f72c8" stroke-width="1"/><rect x="1091" y="7" width="4" height="2" fill="#1f72c8"/><path d="M1095 5 L1098.6 8 L1095 11Z" fill="#1f72c8"/>
<line x1="91" y1="488.5" x2="1102" y2="488.5" stroke="#e4eaf0" stroke-width="1" stroke-dasharray="3 3"/>
<line x1="87" y1="488.5" x2="90" y2="488.5" stroke="#b8c0ca" stroke-width="1"/>
<line x1="1103" y1="488.5" x2="1106" y2="488.5" stroke="#b8c0ca" stroke-width="1"/>
<text x="88.5" y="491.5" font-size="12" fill="#2a3442" text-anchor="end" font-weight="normal" letter-spacing="0.45">75.28</text>
<text x="1105" y="491.5" font-size="12" fill="#2a3442" text-anchor="start" font-weight="normal" letter-spacing="0.45">75.28</text>
<line x1="91" y1="514.5" x2="1102" y2="514.5" stroke="#e2e8ee" stroke-width="1" stroke-dasharray="1 2"/>
<line x1="87" y1="514.5" x2="90" y2="514.5" stroke="#b8c0ca" stroke-width="1"/>
<line x1="1103" y1="514.5" x2="1106" y2="514.5" stroke="#b8c0ca" stroke-width="1"/>
<text x="88.5" y="517.5" font-size="12" fill="#2a3442" text-anchor="end" font-weight="normal" letter-spacing="0.45">66.70</text>
<text x="1105" y="517.5" font-size="12" fill="#2a3442" text-anchor="start" font-weight="normal" letter-spacing="0.45">66.70</text>
<line x1="91" y1="541.5" x2="1102" y2="541.5" stroke="#e2e8ee" stroke-width="1" stroke-dasharray="1 2"/>
<line x1="87" y1="541.5" x2="90" y2="541.5" stroke="#b8c0ca" stroke-width="1"/>
<line x1="1103" y1="541.5" x2="1106" y2="541.5" stroke="#b8c0ca" stroke-width="1"/>
<text x="88.5" y="544.5" font-size="12" fill="#2a3442" text-anchor="end" font-weight="normal" letter-spacing="0.45">58.12</text>
<text x="1105" y="544.5" font-size="12" fill="#2a3442" text-anchor="start" font-weight="normal" letter-spacing="0.45">58.12</text>
<line x1="91" y1="567.5" x2="1102" y2="567.5" stroke="#e2e8ee" stroke-width="1" stroke-dasharray="1 2"/>
<line x1="87" y1="567.5" x2="90" y2="567.5" stroke="#b8c0ca" stroke-width="1"/>
<line x1="1103" y1="567.5" x2="1106" y2="567.5" stroke="#b8c0ca" stroke-width="1"/>
<text x="88.5" y="570.5" font-size="12" fill="#2a3442" text-anchor="end" font-weight="normal" letter-spacing="0.45">49.54</text>
<text x="1105" y="570.5" font-size="12" fill="#2a3442" text-anchor="start" font-weight="normal" letter-spacing="0.45">49.54</text>
<line x1="91" y1="594.5" x2="1102" y2="594.5" stroke="#e2e8ee" stroke-width="1" stroke-dasharray="1 2"/>
<line x1="87" y1="594.5" x2="90" y2="594.5" stroke="#b8c0ca" stroke-width="1"/>
<line x1="1103" y1="594.5" x2="1106" y2="594.5" stroke="#b8c0ca" stroke-width="1"/>
<text x="88.5" y="597.5" font-size="12" fill="#2a3442" text-anchor="end" font-weight="normal" letter-spacing="0.45">40.96</text>
<text x="1105" y="597.5" font-size="12" fill="#2a3442" text-anchor="start" font-weight="normal" letter-spacing="0.45">40.96</text>
<line x1="91" y1="620.5" x2="1102" y2="620.5" stroke="#e2e8ee" stroke-width="1" stroke-dasharray="1 2"/>
<line x1="87" y1="620.5" x2="90" y2="620.5" stroke="#b8c0ca" stroke-width="1"/>
<line x1="1103" y1="620.5" x2="1106" y2="620.5" stroke="#b8c0ca" stroke-width="1"/>
<text x="88.5" y="623.5" font-size="12" fill="#2a3442" text-anchor="end" font-weight="normal" letter-spacing="0.45">32.38</text>
<text x="1105" y="623.5" font-size="12" fill="#2a3442" text-anchor="start" font-weight="normal" letter-spacing="0.45">32.38</text>
<rect x="89" y="493" width="1" height="1" fill="#c4ccd6" />
<rect x="1103" y="493" width="1" height="1" fill="#c4ccd6" />
<rect x="89" y="498" width="1" height="1" fill="#c4ccd6" />
<rect x="1103" y="498" width="1" height="1" fill="#c4ccd6" />
<rect x="89" y="504" width="1" height="1" fill="#c4ccd6" />
<rect x="1103" y="504" width="1" height="1" fill="#c4ccd6" />
<rect x="89" y="509" width="1" height="1" fill="#c4ccd6" />
<rect x="1103" y="509" width="1" height="1" fill="#c4ccd6" />
<rect x="89" y="519" width="1" height="1" fill="#c4ccd6" />
<rect x="1103" y="519" width="1" height="1" fill="#c4ccd6" />
<rect x="89" y="525" width="1" height="1" fill="#c4ccd6" />
<rect x="1103" y="525" width="1" height="1" fill="#c4ccd6" />
<rect x="89" y="530" width="1" height="1" fill="#c4ccd6" />
<rect x="1103" y="530" width="1" height="1" fill="#c4ccd6" />
<rect x="89" y="536" width="1" height="1" fill="#c4ccd6" />
<rect x="1103" y="536" width="1" height="1" fill="#c4ccd6" />
<rect x="89" y="546" width="1" height="1" fill="#c4ccd6" />
<rect x="1103" y="546" width="1" height="1" fill="#c4ccd6" />
<rect x="89" y="551" width="1" height="1" fill="#c4ccd6" />
<rect x="1103" y="551" width="1" height="1" fill="#c4ccd6" />
<rect x="89" y="557" width="1" height="1" fill="#c4ccd6" />
<rect x="1103" y="557" width="1" height="1" fill="#c4ccd6" />
<rect x="89" y="562" width="1" height="1" fill="#c4ccd6" />
<rect x="1103" y="562" width="1" height="1" fill="#c4ccd6" />
<rect x="89" y="572" width="1" height="1" fill="#c4ccd6" />
<rect x="1103" y="572" width="1" height="1" fill="#c4ccd6" />
<rect x="89" y="578" width="1" height="1" fill="#c4ccd6" />
<rect x="1103" y="578" width="1" height="1" fill="#c4ccd6" />
<rect x="89" y="583" width="1" height="1" fill="#c4ccd6" />
<rect x="1103" y="583" width="1" height="1" fill="#c4ccd6" />
<rect x="89" y="589" width="1" height="1" fill="#c4ccd6" />
<rect x="1103" y="589" width="1" height="1" fill="#c4ccd6" />
<rect x="89" y="599" width="1" height="1" fill="#c4ccd6" />
<rect x="1103" y="599" width="1" height="1" fill="#c4ccd6" />
<rect x="89" y="604" width="1" height="1" fill="#c4ccd6" />
<rect x="1103" y="604" width="1" height="1" fill="#c4ccd6" />
<rect x="89" y="610" width="1" height="1" fill="#c4ccd6" />
<rect x="1103" y="610" width="1" height="1" fill="#c4ccd6" />
<rect x="89" y="615" width="1" height="1" fill="#c4ccd6" />
<rect x="1103" y="615" width="1" height="1" fill="#c4ccd6" />
<rect x="89" y="625" width="1" height="1" fill="#c4ccd6" />
<rect x="1103" y="625" width="1" height="1" fill="#c4ccd6" />
<rect x="89" y="630" width="1" height="1" fill="#c4ccd6" />
<rect x="1103" y="630" width="1" height="1" fill="#c4ccd6" />
<rect x="89" y="636" width="1" height="1" fill="#c4ccd6" />
<rect x="1103" y="636" width="1" height="1" fill="#c4ccd6" />
<rect x="89" y="641" width="1" height="1" fill="#c4ccd6" />
<rect x="1103" y="641" width="1" height="1" fill="#c4ccd6" />
<polyline points="93.5,570.3 98.5,579.1 103.5,560.3 108.5,557.3 113.5,558.4 118.5,556.2 123.5,570.3 128.5,590.8 133.5,592.5 138.5,590.8 143.5,585.3 148.5,599.4 153.5,575.7 158.5,574.4 163.5,576.4 168.5,564.8 173.5,553.5 178.5,575.3 183.5,576.4 188.5,578.5 193.5,577.5 198.5,585.3 203.5,585.3 208.5,561.7 213.5,576.4 218.5,579.1 223.5,593.5 228.5,579.4 233.5,575.7 238.5,552.7 243.5,557.1 248.5,545.5 253.5,551.2 258.5,562.5 263.5,568.0 268.5,570.3 273.5,565.3 278.5,566.2 283.5,556.4 288.5,565.3 293.5,555.0 298.5,544.0 303.5,533.9 308.5,519.6 313.5,509.4 318.5,522.3 323.5,512.5 328.5,533.2 333.5,523.4 338.5,504.6 343.5,489.3 348.5,518.2 353.5,503.5 358.5,518.9 363.5,526.4 368.5,539.4 373.5,545.2 378.5,551.3 383.5,563.9 388.5,561.6 393.5,578.2 398.5,567.3 403.5,578.0 408.5,575.8 413.5,568.7 418.5,585.0 423.5,579.6 428.5,595.3 433.5,602.5 438.5,593.2 443.5,576.9 448.5,566.6 453.5,587.1 458.5,583.7 463.5,593.2 468.5,582.3 473.5,577.5 478.5,572.1 483.5,566.6 488.5,593.2 493.5,584.4 498.5,602.1 503.5,604.2 508.5,586.4 513.5,588.5 518.5,602.8 523.5,606.9 528.5,621.0 533.5,621.3 538.5,608.7 543.5,618.2 548.5,607.6 553.5,591.5 558.5,600.2 563.5,592.3 568.5,589.7 573.5,599.4 578.5,591.5 583.5,571.8 588.5,573.0 593.5,560.7 598.5,560.2 603.5,549.3 608.5,551.1 613.5,564.8 618.5,533.5 623.5,537.9 628.5,544.0 633.5,593.2 638.5,628.3 643.5,635.4 648.5,646.3 653.5,600.6 658.5,612.9 663.5,602.4 668.5,601.1 673.5,601.1 678.5,597.1 683.5,579.5 688.5,586.6 693.5,579.5 698.5,589.4 703.5,585.3 708.5,580.6 713.5,590.6 718.5,602.9 723.5,616.9 728.5,608.2 733.5,612.2 738.5,618.7 743.5,598.5 748.5,605.9 753.5,580.9 758.5,570.7 763.5,565.1 768.5,551.4 773.5,556.3 778.5,569.0 783.5,567.2 788.5,565.5 793.5,564.2 798.5,573.0 803.5,580.0 808.5,569.0 813.5,571.3 818.5,576.0 823.5,566.5 828.5,577.8 833.5,579.2 838.5,550.0 843.5,547.8 848.5,556.5 853.5,548.8 858.5,532.9 863.5,527.6 868.5,537.2 873.5,507.1 878.5,526.6" fill="none" stroke="#2aa5df" stroke-width="1" shape-rendering="crispEdges"/>
<text x="92.5" y="481" font-size="12" fill="#111" text-anchor="start" font-weight="normal" >RSI(14,14,14)</text>
<text x="171" y="481" font-size="12" fill="#3b8fe6" text-anchor="start" font-weight="normal" >RSI1:62.83</text>
<text x="240" y="481" font-size="12" fill="#4cc07e" text-anchor="start" font-weight="normal" >RSI2:62.83</text>
<text x="308" y="481" font-size="12" fill="#3aa9e6" text-anchor="start" font-weight="normal" >RSI3:62.83</text>
<rect x="27" y="470" width="4" height="1" fill="#000" />
<rect x="26" y="471" width="1" height="1" fill="#000" />
<rect x="31" y="471" width="1" height="1" fill="#000" />
<rect x="25" y="472" width="1" height="4" fill="#000" />
<rect x="32" y="472" width="1" height="4" fill="#000" />
<rect x="26" y="476" width="1" height="1" fill="#000" />
<rect x="31" y="476" width="1" height="1" fill="#000" />
<rect x="27" y="477" width="4" height="1" fill="#000" />
<rect x="28" y="472" width="2" height="1" fill="#ff0000" />
<rect x="27" y="473" width="4" height="2" fill="#ff0000" />
<rect x="28" y="475" width="2" height="1" fill="#ff0000" />
<rect x="28" y="467" width="1" height="2" fill="#ff0000" />
<rect x="28" y="479" width="1" height="2" fill="#ff0000" />
<rect x="22" y="473" width="2" height="1" fill="#ff0000" />
<rect x="34" y="473" width="2" height="1" fill="#ff0000" />
<rect x="23" y="468" width="1" height="1" fill="#ff0000" />
<rect x="24" y="469" width="1" height="1" fill="#ff0000" />
<rect x="34" y="468" width="1" height="1" fill="#ff0000" />
<rect x="33" y="469" width="1" height="1" fill="#ff0000" />
<rect x="23" y="479" width="1" height="1" fill="#ff0000" />
<rect x="24" y="478" width="1" height="1" fill="#ff0000" />
<rect x="33" y="478" width="1" height="1" fill="#ff0000" />
<rect x="34" y="479" width="1" height="1" fill="#ff0000" />
<rect x="1170" y="328" width="1" height="16" fill="#edf1f6" />
<rect x="1170" y="469" width="1" height="12" fill="#edf1f6" />
<line x1="20" y1="647.5" x2="1172" y2="647.5" stroke="#e3e8ee" stroke-width="1"/>
<line x1="93" y1="664.5" x2="932" y2="664.5" stroke="#e6ebf0" stroke-width="1"/>
<rect x="21" y="647.5" width="68.5" height="19" fill="#fff" stroke="#c9d1db" stroke-width="1.5"/>
<text x="33.3" y="663.5" font-size="13" fill="#ff6a00" stroke="#ff6a00" stroke-width="0.8">日线</text>
<path d="M68.8 654.5 L72.7 661.8 L65 661.8 Z" fill="#ff6a00"/>
<line x1="98.5" y1="647" x2="98.5" y2="653" stroke="#c9d1db" stroke-width="1"/>
<text x="100" y="660" font-size="12" fill="#1e2533" text-anchor="start" font-weight="bold" letter-spacing="0.3">2024/11</text>
<line x1="203.5" y1="647" x2="203.5" y2="653" stroke="#c9d1db" stroke-width="1"/>
<text x="205" y="660" font-size="12" fill="#1e2533" text-anchor="start" font-weight="bold" letter-spacing="0.3">2024/12</text>
<line x1="308.5" y1="647" x2="308.5" y2="653" stroke="#c9d1db" stroke-width="1"/>
<text x="310" y="660" font-size="12" fill="#1e2533" text-anchor="start" font-weight="bold" letter-spacing="0.3">2025/01</text>
<line x1="418.5" y1="647" x2="418.5" y2="653" stroke="#c9d1db" stroke-width="1"/>
<text x="420" y="660" font-size="12" fill="#1e2533" text-anchor="start" font-weight="bold" letter-spacing="0.3">2025/02</text>
<line x1="518.5" y1="647" x2="518.5" y2="653" stroke="#c9d1db" stroke-width="1"/>
<text x="520" y="660" font-size="12" fill="#1e2533" text-anchor="start" font-weight="bold" letter-spacing="0.3">2025/03</text>
<line x1="623.5" y1="647" x2="623.5" y2="653" stroke="#c9d1db" stroke-width="1"/>
<text x="625" y="660" font-size="12" fill="#1e2533" text-anchor="start" font-weight="bold" letter-spacing="0.3">2025/04</text>
<line x1="728.5" y1="647" x2="728.5" y2="653" stroke="#c9d1db" stroke-width="1"/>
<text x="730" y="660" font-size="12" fill="#1e2533" text-anchor="start" font-weight="bold" letter-spacing="0.3">2025/05</text>
<line x1="838.5" y1="647" x2="838.5" y2="653" stroke="#c9d1db" stroke-width="1"/>
<text x="840" y="660" font-size="12" fill="#1e2533" text-anchor="start" font-weight="bold" letter-spacing="0.3">2025/06</text>
<line x1="20" y1="667.5" x2="1172" y2="667.5" stroke="#cbd3dd" stroke-width="1.5"/>
<line x1="0" y1="682.5" x2="1172" y2="682.5" stroke="#cbd3dd" stroke-width="1"/>
<text x="28" y="680" font-size="12" fill="#1e2533" text-anchor="start" font-weight="normal"  stroke="#1e2533" stroke-width="0.3">指标</text>
<rect x="60" y="667" width="39" height="15" fill="#ff6600" />
<text x="66.5" y="680" font-size="12" fill="#fff" text-anchor="start" font-weight="normal"  stroke="#fff" stroke-width="0.3">模板</text>
<text x="108" y="680" font-size="12" fill="#ff7a00" text-anchor="start" font-weight="normal" font-family="Liberation Serif, serif">VIP指标</text>
<line x1="99.5" y1="667" x2="99.5" y2="683" stroke="#d5dbe3" stroke-width="1"/>
<line x1="157.5" y1="667" x2="157.5" y2="683" stroke="#d5dbe3" stroke-width="1"/>
<text x="166" y="680" font-size="12" fill="#1e2533" text-anchor="start" font-weight="normal"  stroke="#1e2533" stroke-width="0.3">标准</text>
<line x1="197.5" y1="667" x2="197.5" y2="683" stroke="#d5dbe3" stroke-width="1"/>
<text x="206" y="679" font-size="12" fill="#1e2533" text-anchor="start" font-weight="normal" font-family="Liberation Serif, serif">1</text>
<rect x="220" y="667" width="63" height="15" fill="#ff6600" />
<text x="228" y="680" font-size="12" fill="#fff" text-anchor="start" font-weight="normal"  stroke="#fff" stroke-width="0.3">另存模板</text>
<text x="292" y="680" font-size="12" fill="#1e2533" text-anchor="start" font-weight="normal"  stroke="#1e2533" stroke-width="0.3">管理模板</text>
<line x1="347.5" y1="667" x2="347.5" y2="683" stroke="#d5dbe3" stroke-width="1"/>
</svg>
</body></html>
